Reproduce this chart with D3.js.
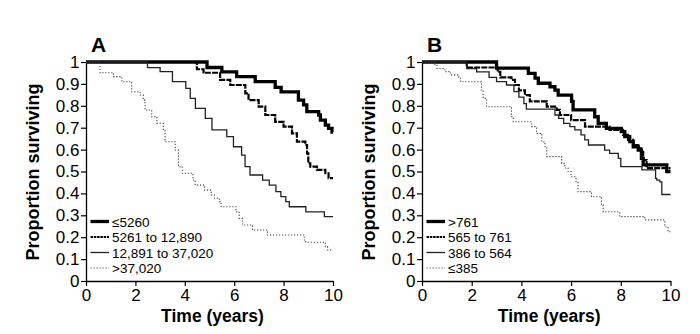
<!DOCTYPE html>
<html><head><meta charset="utf-8">
<script src="https://cdn.jsdelivr.net/npm/d3@7"></script>
<style>body{margin:0;background:#fff}svg{display:block}text{font-family:"Liberation Sans",Arial,sans-serif}</style>
</head><body><svg id="c" width="700" height="334"></svg>
<script>
const yTicks = [0,0.1,0.2,0.3,0.4,0.5,0.6,0.7,0.8,0.9,1];
const yTickLabels = ["0","0.1","0.2","0.3","0.4","0.5","0.6","0.7","0.8","0.9","1"];
const xTicks = [0,2,4,6,8,10];

const legendA = ["≤5260","5261 to 12,890","12,891 to 37,020",">37,020"];
const legendB = [">761","565 to 761","386 to 564","≤385"];

const a1Times = [4.9,5.5,6.1,6.85,7.66,7.9,8.6,8.81,8.94,9.42,9.49,9.69,9.82,9.96];
const a1Surv  = [0.975,0.955,0.933,0.91,0.884,0.864,0.826,0.804,0.773,0.758,0.735,0.712,0.697,0.68];
const a2Times = [4.49,4.76,5.43,5.84,6.45,6.58,6.99,7.26,7.66,8.0,8.34,8.54,8.88,8.95,9.0,9.08,9.35,9.69,9.82];
const a2Surv  = [0.967,0.951,0.918,0.895,0.857,0.826,0.796,0.758,0.727,0.705,0.674,0.636,0.621,0.583,0.537,0.522,0.507,0.492,0.47];
const a3Times = [2.49,3.0,3.5,4.04,4.22,4.43,4.83,5.1,5.7,5.97,6.3,6.44,6.64,7.15,7.42,7.69,7.89,8.09,8.23,8.9,9.65];
const a3Surv  = [0.974,0.956,0.91,0.88,0.834,0.788,0.743,0.69,0.659,0.613,0.575,0.522,0.484,0.461,0.438,0.408,0.385,0.362,0.339,0.316,0.294];
const a4Times = [0.57,1.11,1.45,1.85,2.19,2.32,2.39,2.66,2.87,3.13,3.2,3.61,3.74,3.9,4.33,4.42,4.8,5.07,5.2,5.4,5.47,6.07,6.2,6.34,6.74,7.35,8.84,8.9,9.69,9.78];
const a4Surv  = [0.951,0.933,0.91,0.864,0.849,0.826,0.781,0.75,0.72,0.69,0.636,0.598,0.522,0.492,0.461,0.438,0.415,0.393,0.378,0.362,0.339,0.316,0.286,0.256,0.233,0.21,0.187,0.177,0.157,0.142];

const b1Times = [3.0,4.28,4.55,4.68,5.15,5.35,5.48,6.02,6.08,6.95,7.09,7.42,8.02,8.16,8.36,8.5,8.7,8.83,8.9,9.85];
const b1Surv  = [0.972,0.948,0.926,0.903,0.887,0.872,0.849,0.82,0.781,0.75,0.72,0.697,0.682,0.659,0.636,0.613,0.598,0.56,0.53,0.5];
const b2Times = [1.8,3.05,3.15,3.6,3.74,3.9,4.14,4.34,5.02,5.42,5.55,6.0,6.56,7.55,8.09,8.29,8.5,8.7,8.83,8.9,9.04];
const b2Surv  = [0.975,0.955,0.93,0.918,0.895,0.87,0.849,0.82,0.796,0.781,0.758,0.735,0.705,0.69,0.667,0.644,0.621,0.606,0.59,0.552,0.515];
const b3Times = [1.8,2.2,2.7,3.0,3.4,3.7,3.9,4.1,4.2,5.35,5.5,5.7,5.95,6.15,6.4,6.55,6.7,7.35,7.55,7.9,8.0,8.85,9.4,9.45,9.57,9.65];
const b3Surv  = [0.97,0.955,0.93,0.91,0.895,0.865,0.84,0.81,0.785,0.758,0.743,0.72,0.705,0.69,0.667,0.644,0.621,0.598,0.583,0.56,0.522,0.507,0.469,0.461,0.453,0.395];
const b4Times = [0.52,0.6,0.92,1.15,1.48,1.55,2.39,2.46,2.6,3.6,3.67,4.41,4.61,4.82,4.95,5.02,5.62,5.75,5.88,6.0,6.2,6.28,6.82,7.22,7.29,7.96,8.97,9.77,9.9];
const b4Surv  = [0.985,0.97,0.956,0.941,0.926,0.91,0.872,0.834,0.796,0.75,0.727,0.705,0.674,0.636,0.613,0.568,0.537,0.516,0.5,0.476,0.45,0.408,0.385,0.347,0.316,0.294,0.279,0.248,0.225];

const styles = [
  {w:3.3, dash:null, color:"#000"},
  {w:2.2, dash:"6,1.2", color:"#000"},
  {w:1.3, dash:null, color:"#222"},
  {w:1.1, dash:"1.2,1.8", color:"#444"}
];

const svg = d3.select("#c");

function panel(x0, x1, label, series, legend) {
  const x = d3.scaleLinear().domain([0,10]).range([x0, x1]);
  const y = d3.scaleLinear().domain([0,1]).range([281, 62]);
  const g = svg.append("g");

  const ya = g.append("g").attr("transform", `translate(${x0},0)`)
    .call(d3.axisLeft(y).tickValues(yTicks).tickFormat((d,i)=>yTickLabels[i]).tickSize(5).tickSizeOuter(0));
  const xa = g.append("g").attr("transform", `translate(0,281)`)
    .call(d3.axisBottom(x).tickValues(xTicks).tickFormat(d3.format("d")).tickSize(5).tickSizeOuter(0));
  [ya, xa].forEach(a => {
    a.select(".domain").attr("stroke","#000").attr("stroke-width",1.3);
    a.selectAll(".tick line").attr("stroke","#000").attr("stroke-width",1.2);
    a.selectAll("text").attr("font-size","17px").attr("fill","#000")
      .attr("font-family",'"Liberation Sans",Arial,sans-serif');
  });
  ya.selectAll("text").attr("x",-6.5);
  xa.selectAll("text").attr("y",8);

  const line = d3.line().x(d=>x(d[0])).y(d=>y(d[1])).curve(d3.curveStepAfter);
  series.forEach((s, i) => {
    const pts = [[0,1]].concat(s.t.map((t,k)=>[t, s.s[k]]));
    pts.push([10, s.s[s.s.length-1]]);
    const st = styles[i];
    g.append("path").attr("d", line(pts)).attr("fill","none")
      .attr("stroke", st.color).attr("stroke-width", st.w)
      .attr("stroke-dasharray", st.dash);
  });

  const ly = [221.5, 237, 252.5, 268];
  legend.forEach((txt, i) => {
    const st = styles[i];
    g.append("line").attr("x1", x0+4.5).attr("x2", x0+23).attr("y1", ly[i]).attr("y2", ly[i])
      .attr("stroke", st.color).attr("stroke-width", st.w).attr("stroke-dasharray", i===1 ? "2.5,0.8" : st.dash);
    g.append("text").attr("x", x0+26).attr("y", ly[i]+5).attr("font-size","13.5px").attr("fill","#000").text(txt);
  });

  g.append("text").attr("x", x0+5).attr("y", 52).attr("font-size","21px").attr("font-weight","bold").text(label);
  g.append("text").attr("x", (x0+x1)/2+3).attr("y", 322).attr("text-anchor","middle")
    .attr("font-size","17.5px").attr("font-weight","bold").text("Time (years)");
  g.append("text").attr("transform", `translate(${x0-47},172) rotate(-90)`).attr("text-anchor","middle")
    .attr("font-size","18px").attr("font-weight","bold").text("Proportion surviving");
}

panel(86, 333, "A", [
  {t:a1Times, s:a1Surv},{t:a2Times, s:a2Surv},{t:a3Times, s:a3Surv},{t:a4Times, s:a4Surv}
], legendA);
panel(422, 670.5, "B", [
  {t:b1Times, s:b1Surv},{t:b2Times, s:b2Surv},{t:b3Times, s:b3Surv},{t:b4Times, s:b4Surv}
], legendB);
</script></body></html>
